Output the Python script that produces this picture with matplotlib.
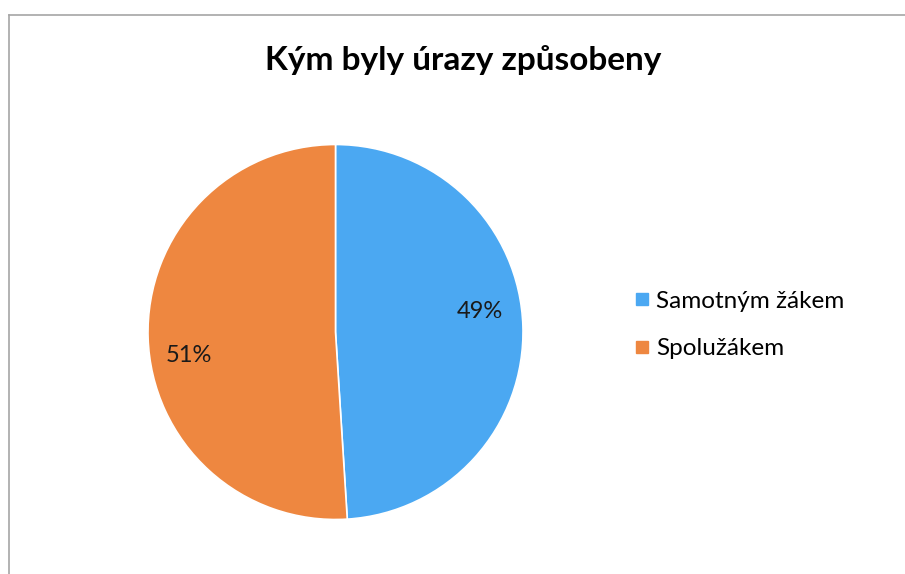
import matplotlib.pyplot as plt
from matplotlib.lines import Line2D

plt.rcParams["font.family"] = ["Lato", "DejaVu Sans"]

title = "Kým byly úrazy způsobeny"
labels = ["Samotným žákem", "Spolužákem"]
shares = [49, 51]
colors = ["#4BA8F2", "#EE8740"]

fig = plt.figure(figsize=(9.05, 5.74), dpi=100)

ax = fig.add_axes([(335.5 - 187.5) / 905, 1 - (332 + 187.5) / 574, 375 / 905, 375 / 574])
wedges, texts, autotexts = ax.pie(
    shares, colors=colors, startangle=90, counterclock=False,
    autopct="%1.0f%%", pctdistance=0.75,
    wedgeprops=dict(edgecolor="white", linewidth=1.2),
    textprops=dict(fontsize=17, color="#1a1a1a"),
)
# Excel-like label placement
autotexts[0].set_position((0.77, 0.107))
autotexts[1].set_position((-0.78, -0.128))
ax.set_xlim(-1, 1)
ax.set_ylim(-1, 1)
ax.set_aspect("equal")

fig.text(463 / 905, 1 - 60 / 574, title, ha="center", va="center",
         fontsize=24, fontweight="bold", color="black")

handles = [Line2D([], [], marker="s", linestyle="none", markersize=8.5,
                  markerfacecolor=c, markeredgecolor=c) for c in colors]
fig.legend(handles, labels, loc="center left",
           bbox_to_anchor=(610 / 905, 1 - 325 / 574), frameon=False,
           fontsize=17.5, labelspacing=1.1, handletextpad=0.2, handlelength=0.8)

# chart area border (top and left only visible)
fig.add_artist(Line2D([8.5 / 905, 1], [1 - 14.5 / 574, 1 - 14.5 / 574],
                      color="#A6A6A6", linewidth=1.2, transform=fig.transFigure))
fig.add_artist(Line2D([8.5 / 905, 8.5 / 905], [0, 1 - 14.5 / 574],
                      color="#A6A6A6", linewidth=1.2, transform=fig.transFigure))

fig.savefig("out.png", dpi=100, facecolor="white")
